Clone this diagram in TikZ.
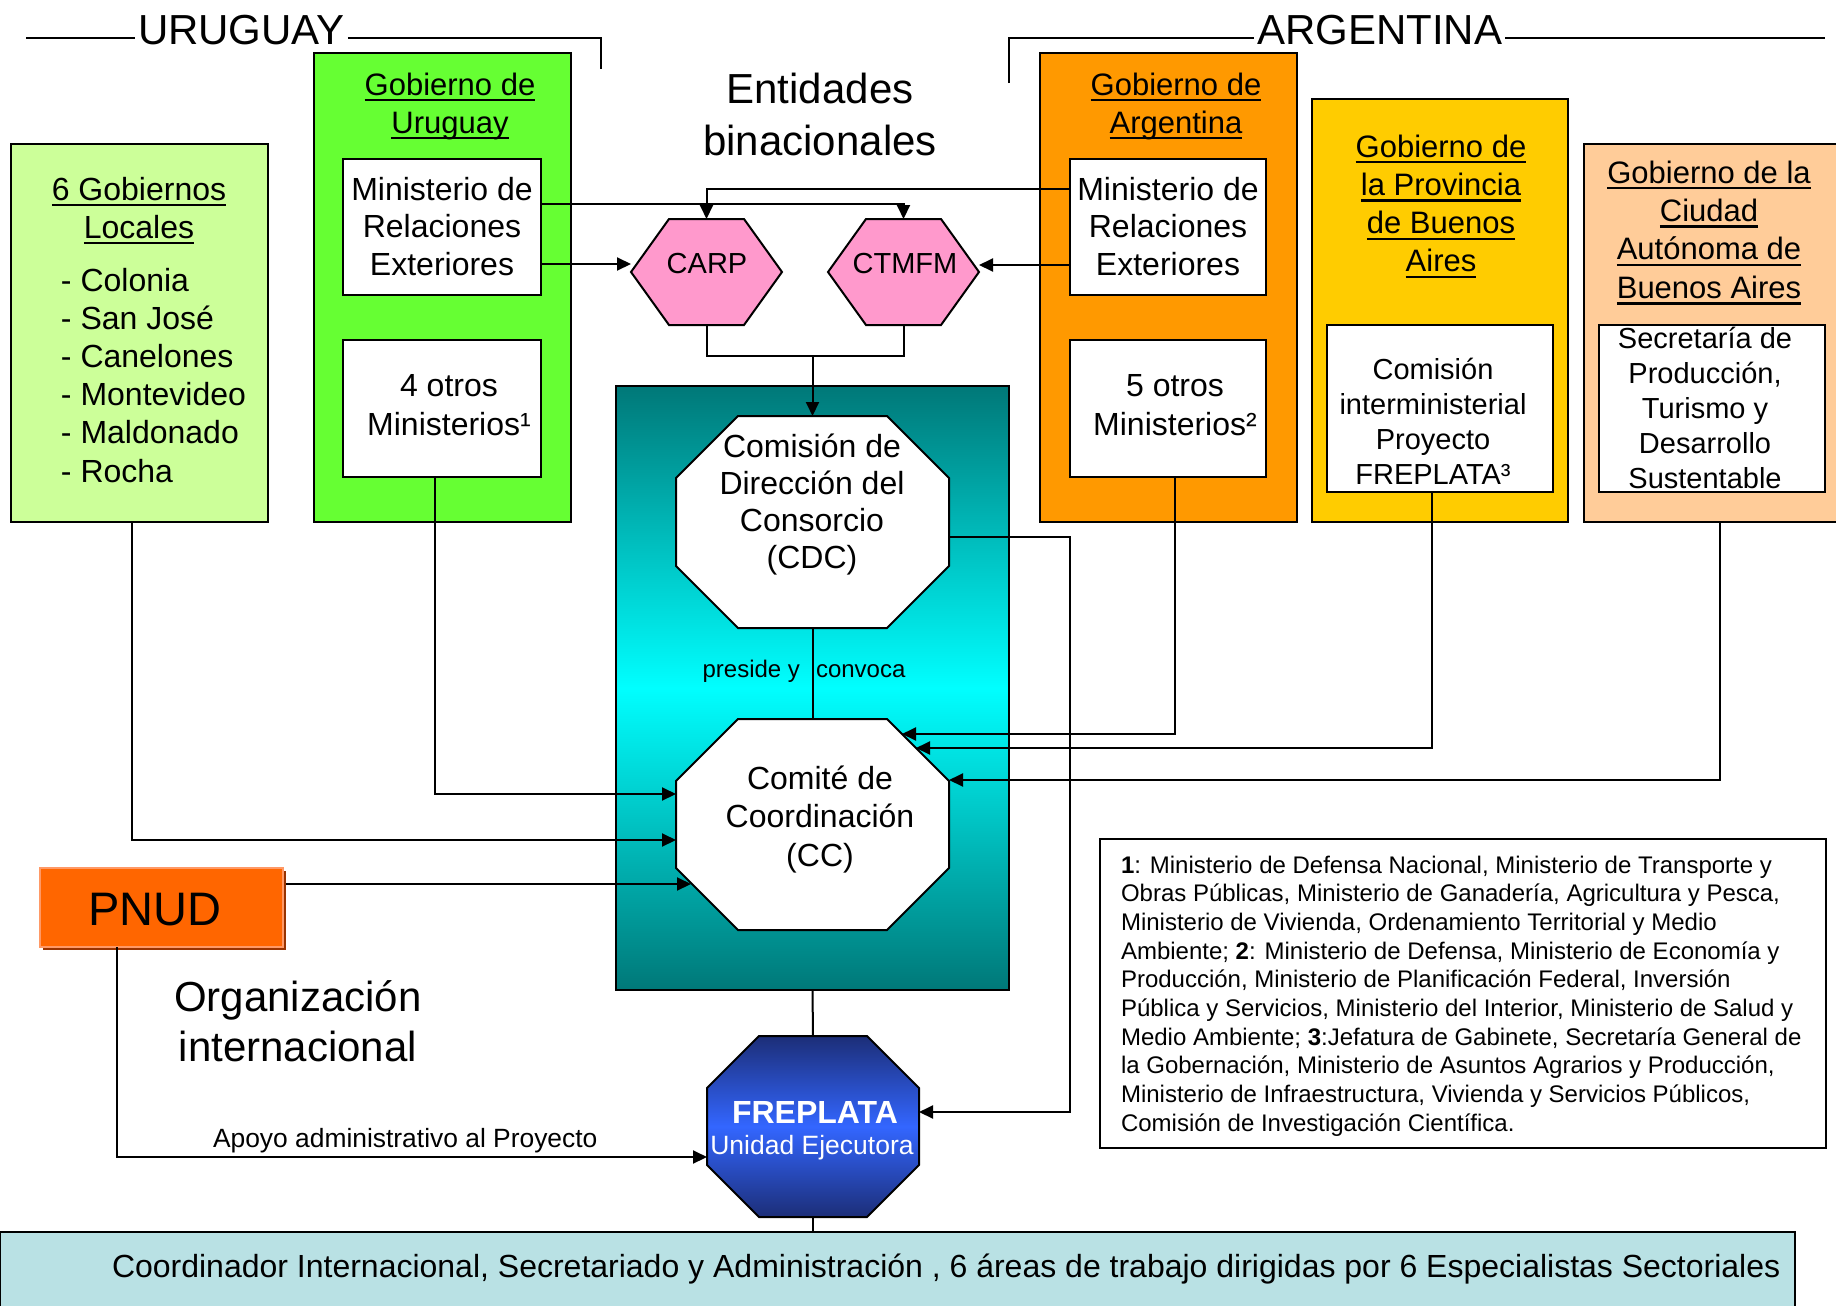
\documentclass[tikz,border=0pt]{standalone}
\usepackage{fontspec}
\setmainfont{Liberation Sans}
\usetikzlibrary{arrows.meta,calc}
\definecolor{cLG}{HTML}{CCFF99}
\definecolor{cGU}{HTML}{66FF33}
\definecolor{cGA}{HTML}{FF9900}
\definecolor{cGP}{HTML}{FFCC00}
\definecolor{cGC}{HTML}{FFCC99}
\definecolor{cPink}{HTML}{FF99CC}
\definecolor{cTeal}{HTML}{007878}
\definecolor{cCyan}{HTML}{00FFFF}
\definecolor{cNavy}{HTML}{1C2E78}
\definecolor{cBlue}{HTML}{3366FF}
\definecolor{cPN}{HTML}{FF6600}
\definecolor{cPNs}{HTML}{993300}
\definecolor{cPNh}{HTML}{FF9966}
\definecolor{cBand}{HTML}{B9E1E4}
\newcommand{\fsz}[2]{\fontsize{#1}{#2}\selectfont}
\newcommand{\mlc}[2]{\parbox[t]{#1}{\centering #2}}
\newcommand{\mll}[2]{\parbox[t]{#1}{\raggedright #2}}
\newcommand{\uln}[1]{\leavevmode\setbox0\hbox{#1}\rlap{\rule[-3.2pt]{\wd0}{1.2pt}}\box0}
\newcommand{\octo}[3]{%
  \path[#3] ($(#1.north west)+(#2,0)$) -- ($(#1.north east)+(-#2,0)$)
   -- ($(#1.north east)+(0,#2)$) -- ($(#1.south east)+(0,-#2)$)
   -- ($(#1.south east)+(-#2,0)$) -- ($(#1.south west)+(#2,0)$)
   -- ($(#1.south west)+(0,-#2)$) -- ($(#1.north west)+(0,#2)$) -- cycle;}
\newcommand{\hexo}[3]{%
  \path[#3] (#1.west) -- ($(#1.north west)+(#2,0)$) -- ($(#1.north east)+(-#2,0)$)
   -- (#1.east) -- ($(#1.south east)+(-#2,0)$) -- ($(#1.south west)+(#2,0)$) -- cycle;}
\tikzset{
  box/.style={draw=black, line width=1pt, inner sep=0pt, outer sep=0pt},
  wbox/.style={box, fill=white},
  ghost/.style={draw=none, inner sep=0pt, outer sep=0pt},
  txt/.style={inner sep=0pt, outer sep=0pt, text=black},
  arr/.style={line width=1pt, -{Triangle[length=7pt,width=6.5pt]}},
  conn/.style={line width=1pt},
  shp/.style={draw=black, line width=1pt, line join=miter},
  bigtxt/.style={txt, font=\fsz{21pt}{26pt}},
  ttl/.style={txt, anchor=base, font=\fsz{15.5pt}{19pt}},
  body/.style={txt, anchor=base, font=\fsz{16pt}{18.8pt}},
}
\begin{document}
\begin{tikzpicture}[x=0.5pt,y=-0.5pt]
\useasboundingbox (0,0) rectangle (1836,1306);
\clip (0,0) rectangle (1836,1306);
\fill[white] (0,0) rectangle (1836,1306);

% container boxes
\node[box, fill=cLG, minimum width=128.5pt, minimum height=189pt] (lg) at (139.5,333) {};
\node[box, fill=cGU, minimum width=128.5pt, minimum height=234.5pt] (gu) at (442.5,287.5) {};
\node[box, fill=cGA, minimum width=128.5pt, minimum height=234.5pt] (ga) at (1168.5,287.5) {};
\node[box, fill=cGP, minimum width=128pt, minimum height=211.5pt] (gp) at (1440,310.5) {};
\node[box, fill=cGC, minimum width=128pt, minimum height=189pt] (gc) at (1712,333) {};
\node[wbox, minimum width=99pt, minimum height=68pt] (mu) at (442,227) {};
\node[wbox, minimum width=99pt, minimum height=68.5pt] (ou) at (442,408.5) {};
\node[wbox, minimum width=98pt, minimum height=68pt] (ma) at (1168,227) {};
\node[wbox, minimum width=98pt, minimum height=68.5pt] (oa) at (1168,408.5) {};
\node[wbox, minimum width=113pt, minimum height=83.5pt] (cp) at (1440,408.5) {};
\node[wbox, minimum width=113pt, minimum height=83.5pt] (sc) at (1712,408.5) {};
\node[box, top color=cTeal, bottom color=cTeal, middle color=cCyan, minimum width=196.5pt, minimum height=302pt] (cons) at (812.5,688) {};
\node[box, fill=white, minimum width=363pt, minimum height=154.5pt] (fn) at (1463,993.5) {};
\node[box, fill=cBand, minimum width=897.5pt, minimum height=39pt] (band) at (897.5,1271) {};
\node[ghost, fill=cPNs, minimum width=121.5pt, minimum height=39.5pt] (pns) at (164.5,910.5) {};
\node[draw=cPNh, line width=1pt, fill=cPN, inner sep=0pt, outer sep=0pt, minimum width=121.5pt, minimum height=39.5pt] (pn) at (161.5,907.5) {};

% shaped nodes
\node[ghost, minimum width=75.5pt, minimum height=53pt] (carp) at (706.5,272) {};
\node[ghost, minimum width=75.5pt, minimum height=53pt] (ct) at (903.5,272) {};
\node[ghost, minimum width=136.5pt, minimum height=106pt] (cdc) at (812.5,522) {};
\node[ghost, minimum width=136.5pt, minimum height=105.5pt] (cc) at (812.5,824.5) {};
\node[ghost, minimum width=106pt, minimum height=90.5pt] (fp) at (813,1126.5) {};
\hexo{carp}{38}{shp, fill=cPink}
\hexo{ct}{38}{shp, fill=cPink}
\octo{cdc}{62}{shp, fill=white}
\octo{cc}{62}{shp, fill=white}
\octo{fp}{52}{shp, top color=cNavy, bottom color=cNavy, middle color=cBlue}

% title texts and lines
\node[bigtxt, anchor=base west, inner xsep=1.5pt] (uy) at (135,44) {URUGUAY};
\node[bigtxt, anchor=base west, inner xsep=1.5pt] (ar) at (1254,44) {ARGENTINA};
\draw[conn] (26,38) -- (uy.west |- 0,38);
\draw[conn] (uy.east |- 0,38) -- (601,38) -- (601,69);
\draw[conn] (1009,83) -- (1009,38) -- (ar.west |- 0,38);
\draw[conn] (ar.east |- 0,38) -- (1825,38);

% connectors
\draw[arr] (ma.west |- 0,189) -| (carp.north);
\draw[arr] (mu.east |- 0,204) -| (ct.north);
\draw[arr] (mu.east |- 0,264) -- (carp.west |- 0,264);
\draw[arr] (ma.west |- 0,265) -- (ct.east |- 0,265);
\coordinate (mrg) at (812.5,356);
\draw[conn] (carp.south) |- (mrg) -| (ct.south);
\draw[arr] (mrg) -- (cdc.north);
\draw[conn] (cdc.south) -- (cc.north);
\draw[arr] (ou.south -| 435,0) |- (cc.west |- 0,794);
\draw[arr] (lg.south -| 132,0) |- (cc.west |- 0,840);
\coordinate (ccp) at (691,884);
\draw[arr] (pns.east |- 0,884) -- (ccp);
\coordinate (cc1) at (902,734);
\draw[arr] (oa.south -| 1175,0) |- (cc1);
\coordinate (cc2) at (916,748);
\draw[arr] (cp.south -| 1432,0) |- (cc2);
\draw[arr] (gc.south -| 1720,0) |- (cc.east |- 0,780);
\draw[arr] (cdc.east |- 0,537) -| (1070,1112) -- (fp.east |- 0,1112);
\draw[conn] (cons.south) -- (fp.north);
\draw[conn] (fp.south) -- (band.north -| fp.south);
\draw[arr] (pn.south -| 117,0) |- (fp.west |- 0,1157);

% texts
\node[txt, anchor=base, font=\fsz{14.5pt}{17pt}] (tcarp) at (707,273) {CARP};
\node[txt, anchor=base, font=\fsz{14.5pt}{17pt}] (tct) at (905,273) {CTMFM};
\node[bigtxt, anchor=base] (teb) at (820,103) {\mlc{160pt}{Entidades\\binacionales}};
\node[bigtxt, anchor=base, font=\fsz{21pt}{25pt}] (toi) at (298,1011) {\mlc{160pt}{Organización\\internacional}};
\node[ttl] (tgu) at (450,95) {\mlc{150pt}{\uln{Gobierno de}\\\uln{Uruguay}}};
\node[ttl, font=\fsz{16pt}{19pt}] (tlg) at (139,200) {\mlc{150pt}{\uln{6 Gobiernos}\\\uln{Locales}}};
\node[txt, anchor=base west, font=\fsz{16pt}{19.1pt}] (tlist) at (61,291) {\mll{120pt}{- Colonia\\- San José\\- Canelones\\- Montevideo\\- Maldonado\\- Rocha}};
\node[body] (tmu) at (442,200) {\mlc{150pt}{Ministerio de\\Relaciones\\Exteriores}};
\node[body, font=\fsz{16pt}{19.5pt}] (tou) at (449,396) {\mlc{150pt}{4 otros\\Ministerios¹}};
\node[ttl] (tga) at (1176,95) {\mlc{150pt}{\uln{Gobierno de}\\\uln{Argentina}}};
\node[body] (tma) at (1168,200) {\mlc{150pt}{Ministerio de\\Relaciones\\Exteriores}};
\node[body, font=\fsz{16pt}{19.5pt}] (toa) at (1175,396) {\mlc{150pt}{5 otros\\Ministerios²}};
\node[ttl, font=\fsz{15.5pt}{19.15pt}] (tgp) at (1441,157) {\mlc{150pt}{\uln{Gobierno de}\\\uln{la Provincia}\\\uln{de Buenos}\\\uln{Aires}}};
\node[body, font=\fsz{14.5pt}{17.5pt}] (tcp) at (1433,379) {\mlc{150pt}{Comisión\\interministerial\\Proyecto\\FREPLATA³}};
\node[ttl, font=\fsz{15.5pt}{19.2pt}] (tgc) at (1709,183) {\mlc{150pt}{\uln{Gobierno de la}\\\uln{Ciudad}\\\uln{Autónoma de}\\\uln{Buenos Aires}}};
\node[body, font=\fsz{14.5pt}{17.6pt}] (tsc) at (1705,348) {\mlc{150pt}{Secretaría de\\Producción,\\Turismo y\\Desarrollo\\Sustentable}};
\node[body, font=\fsz{16pt}{18.6pt}] (tcdc) at (812,457) {\mlc{150pt}{Comisión de\\Dirección del\\Consorcio\\(CDC)}};
\node[body, font=\fsz{16pt}{19.25pt}] (tcc) at (820,789) {\mlc{150pt}{Comité de\\Coordinación\\(CC)}};
\node[txt, anchor=base east, font=\fsz{12pt}{14pt}] (tpre) at (800,677) {preside y};
\node[txt, anchor=base west, font=\fsz{12pt}{14pt}] (tcon) at (816,677) {convoca};
\node[txt, anchor=base, text=white, font=\fsz{16pt}{18pt}\bfseries] (tfp1) at (815,1123) {FREPLATA};
\node[txt, anchor=base, text=white, font=\fsz{13.25pt}{16pt}] (tfp2) at (812,1154) {Unidad Ejecutora};
\node[txt, anchor=base, font=\fsz{23.5pt}{26pt}] (tpn) at (155,925) {PNUD};
\node[txt, anchor=base west, font=\fsz{13.2pt}{15pt}] (tap) at (213,1147) {Apoyo administrativo al Proyecto};
\node[txt, anchor=base west, font=\fsz{12pt}{14.35pt}] (tfn) at (1121,873) {\mll{360pt}{\textbf{1}: Ministerio de Defensa Nacional, Ministerio de Transporte y\\Obras Públicas, Ministerio de Ganadería, Agricultura y Pesca,\\Ministerio de Vivienda, Ordenamiento Territorial y Medio\\Ambiente; \textbf{2}: Ministerio de Defensa, Ministerio de Economía y\\Producción, Ministerio de Planificación Federal, Inversión\\Pública y Servicios, Ministerio del Interior, Ministerio de Salud y\\Medio Ambiente; \textbf{3}:Jefatura de Gabinete, Secretaría General de\\la Gobernación, Ministerio de Asuntos Agrarios y Producción,\\Ministerio de Infraestructura, Vivienda y Servicios Públicos,\\Comisión de Investigación Científica.}};
\node[txt, anchor=base west, font=\fsz{16pt}{18pt}] (tband) at (112,1277) {Coordinador Internacional, Secretariado y Administración , 6 áreas de trabajo dirigidas por 6 Especialistas Sectoriales};
\end{tikzpicture}
\end{document}
